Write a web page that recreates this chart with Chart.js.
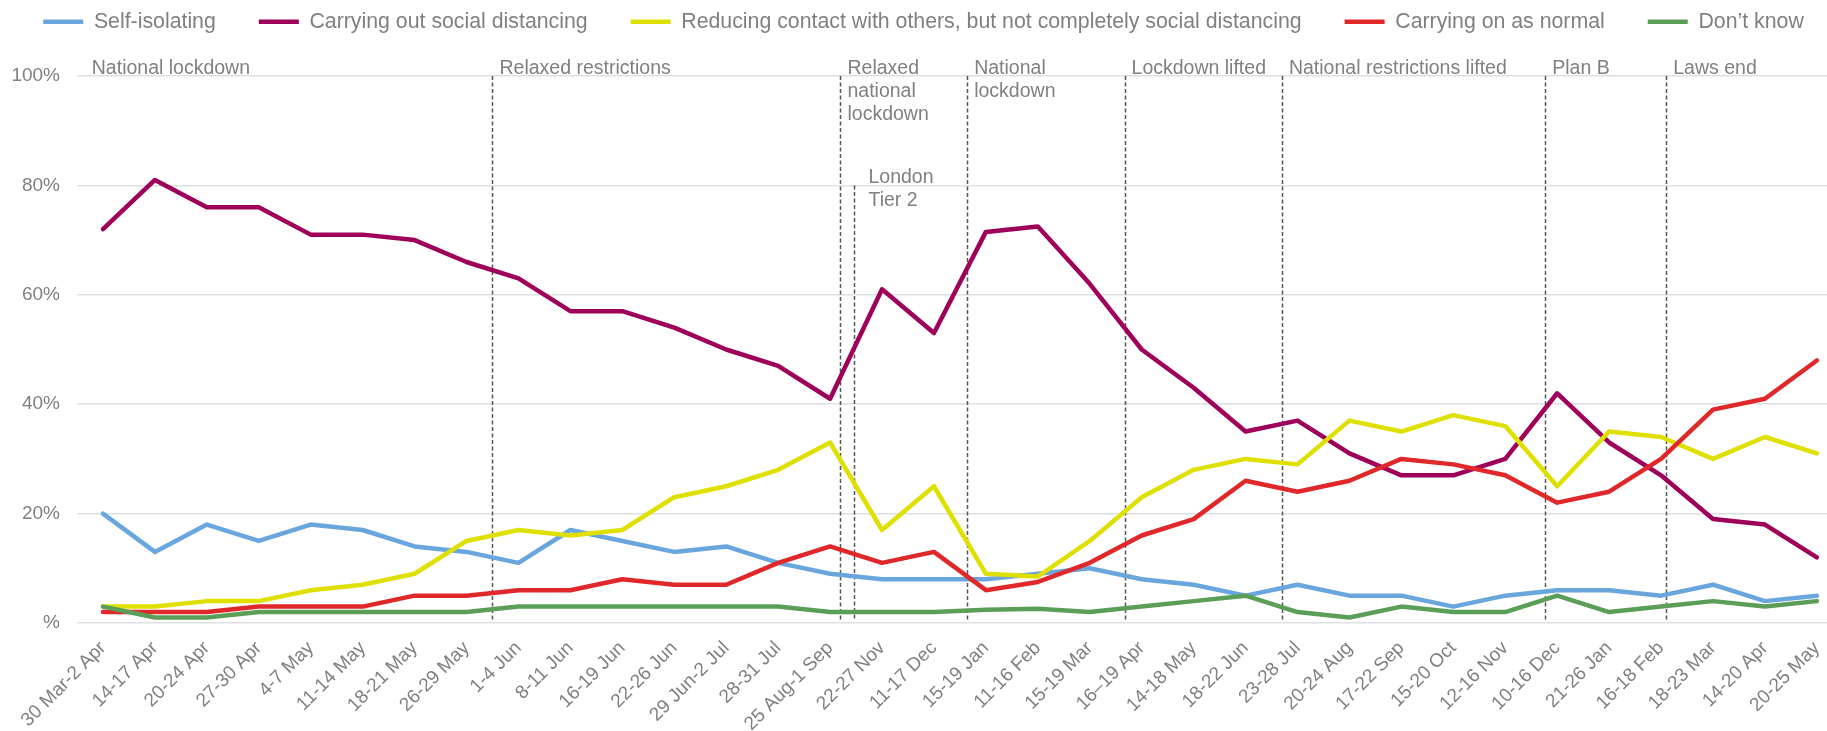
<!DOCTYPE html>
<html>
<head>
<meta charset="utf-8">
<title>Social distancing behaviour</title>
<script src="https://cdn.jsdelivr.net/npm/chart.js@4.4.0/dist/chart.umd.min.js"></script>
<style>
  html, body { margin: 0; padding: 0; background: #fff; overflow: hidden; }
  canvas { display: block; }
</style>
</head>
<body>
<!-- a little wider than the window: the last wave's half-slot runs off the right edge -->
<canvas id="behaviourChart" width="1847" height="731"></canvas>
<script>
// ===== Data =====
const waves = [
  "30 Mar-2 Apr", "14-17 Apr", "20-24 Apr", "27-30 Apr", "4-7 May", "11-14 May",
  "18-21 May", "26-29 May", "1-4 Jun", "8-11 Jun", "16-19 Jun", "22-26 Jun",
  "29 Jun-2 Jul", "28-31 Jul", "25 Aug-1 Sep", "22-27 Nov", "11-17 Dec", "15-19 Jan",
  "11-16 Feb", "15-19 Mar", "16–19 Apr", "14-18 May", "18-22 Jun", "23-28 Jul",
  "20-24 Aug", "17-22 Sep", "15-20 Oct", "12-16 Nov", "10-16 Dec", "21-26 Jan",
  "16-18 Feb", "18-23 Mar", "14-20 Apr", "20-25 May"
];

const selfIsolating    = [20, 13, 18, 15, 18, 17, 14, 13, 11, 17, 15, 13, 14, 11, 9, 8, 8, 8, 9, 10, 8, 7, 5, 7, 5, 5, 3, 5, 6, 6, 5, 7, 4, 5];
const socialDistancing = [72, 81, 76, 76, 71, 71, 70, 66, 63, 57, 57, 54, 50, 47, 41, 61, 53, 71.5, 72.5, 62, 50, 43, 35, 37, 31, 27, 27, 30, 42, 33, 27, 19, 18, 12];
const reducingContact  = [3, 3, 4, 4, 6, 7, 9, 15, 17, 16, 17, 23, 25, 28, 33, 17, 25, 9, 8.5, 15, 23, 28, 30, 29, 37, 35, 38, 36, 25, 35, 34, 30, 34, 31];
const carryingOn       = [2, 2, 2, 3, 3, 3, 5, 5, 6, 6, 8, 7, 7, 11, 14, 11, 13, 6, 7.5, 11, 16, 19, 26, 24, 26, 30, 29, 27, 22, 24, 30, 39, 41, 48];
const dontKnow         = [3, 1, 1, 2, 2, 2, 2, 2, 3, 3, 3, 3, 3, 3, 2, 2, 2, 2.4, 2.6, 2, 3, 4, 5, 2, 1, 3, 2, 2, 5, 2, 3, 4, 3, 4];

const yTickLabels = ["%", "20%", "40%", "60%", "80%", "100%"];

// restriction changes, positioned on the wave axis (fractional index = date between waves)
const events = [
  { at: -0.35, text: ["National lockdown"], line: false },
  { at: 7.5,   text: ["Relaxed restrictions"] },
  { at: 14.2,  text: ["Relaxed", "national", "lockdown"] },
  { at: 14.47, text: ["London", "Tier 2"], top: 80 },
  { at: 16.64, text: ["National", "lockdown"] },
  { at: 19.67, text: ["Lockdown lifted"] },
  { at: 22.7,  text: ["National restrictions lifted"] },
  { at: 27.77, text: ["Plan B"] },
  { at: 30.1,  text: ["Laws end"] }
];

const FONT = '"Liberation Sans", Arial, sans-serif';
const GREY = "#808080";

// ===== Plugins =====
// dashed event lines behind the series, captions on top
const eventMarkers = {
  id: "eventMarkers",
  beforeDatasetsDraw(chart) {
    const { ctx, scales: { x, y } } = chart;
    ctx.save();
    ctx.strokeStyle = "#555555";
    ctx.lineWidth = 1.5;
    ctx.setLineDash([4, 2.5]);
    events.forEach(ev => {
      if (ev.line === false) return;
      const px = Math.round(x.getPixelForValue(ev.at)) + 0.5;
      ctx.beginPath();
      ctx.moveTo(px, y.getPixelForValue(ev.top ?? 100));
      ctx.lineTo(px, y.getPixelForValue(0) - 2);
      ctx.stroke();
    });
    ctx.restore();
  },
  afterDraw(chart) {
    const { ctx, scales: { x, y } } = chart;
    ctx.save();
    ctx.font = "19.5px " + FONT;
    ctx.fillStyle = GREY;
    ctx.textAlign = "left";
    ctx.textBaseline = "alphabetic";
    events.forEach(ev => {
      const px = x.getPixelForValue(ev.at) + (ev.top ? 14 : 7);
      const py = y.getPixelForValue(ev.top ?? 100) - 2;
      ev.text.forEach((line, i) => ctx.fillText(line, px, py + i * 23));
    });
    ctx.restore();
  }
};

// extra room under the legend
const legendSpacing = {
  id: "legendSpacing",
  beforeInit(chart) {
    const fit = chart.legend.fit;
    chart.legend.fit = function () {
      fit.call(this);
      this.height = 108;
    };
  }
};

// ===== Chart =====
Chart.defaults.font.family = FONT;
Chart.defaults.color = GREY;

const series = [
  { label: "Self-isolating", data: selfIsolating, color: "#6aa6de" },
  { label: "Carrying out social distancing", data: socialDistancing, color: "#9e005a" },
  { label: "Reducing contact with others, but not completely social distancing", data: reducingContact, color: "#dfe000" },
  { label: "Carrying on as normal", data: carryingOn, color: "#e0282a" },
  { label: "Don’t know", data: dontKnow, color: "#5b9e57" }
];

new Chart(document.getElementById("behaviourChart"), {
  type: "line",
  data: {
    labels: waves,
    datasets: series.map((s, i) => ({
      label: s.label,
      data: s.data,
      borderColor: s.color,
      backgroundColor: s.color,
      borderWidth: 4.5,
      borderCapStyle: "round",
      borderJoinStyle: "round",
      pointRadius: 0,
      tension: 0,
      order: series.length - 1 - i   // later series drawn on top
    }))
  },
  options: {
    responsive: false,
    animation: false,
    layout: { padding: { top: -32, right: 0, bottom: 0, left: 0 } },
    plugins: {
      legend: {
        position: "top",
        labels: {
          usePointStyle: true,
          pointStyle: "line",
          pointStyleWidth: 40,
          padding: 43,
          color: GREY,
          font: { size: 21.3 },
          sort: (a, b) => a.datasetIndex - b.datasetIndex
        }
      },
      tooltip: { enabled: false }
    },
    scales: {
      x: {
        offset: true,
        grid: { display: false, drawTicks: false },
        border: { display: false },
        ticks: {
          autoSkip: false,
          minRotation: 45,
          maxRotation: 45,
          padding: 14,
          color: GREY,
          font: { size: 19 }
        },
        afterFit(scale) { scale.height = 108; }
      },
      y: {
        min: 0,
        max: 100,
        grid: { color: "#dcdfe4", lineWidth: 1.5, drawTicks: false },
        border: { display: false },
        ticks: {
          stepSize: 20,
          padding: 17,
          color: GREY,
          font: { size: 19 },
          callback: v => yTickLabels[v / 20]
        },
        afterFit(scale) { scale.width = 77; }
      }
    }
  },
  plugins: [eventMarkers, legendSpacing]
});
</script>
</body>
</html>
